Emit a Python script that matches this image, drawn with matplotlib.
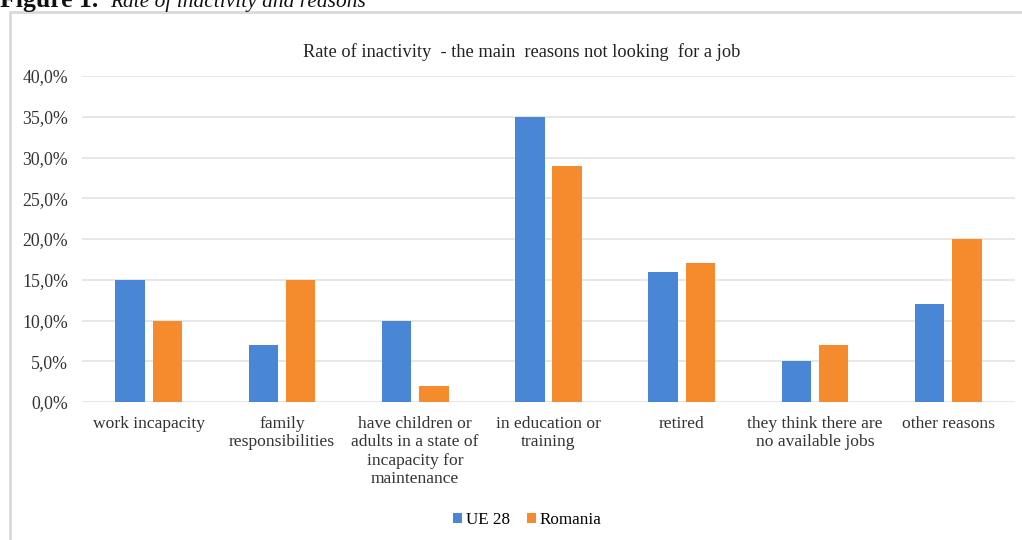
import matplotlib
matplotlib.use("Agg")
import matplotlib.pyplot as plt
import numpy as np
from matplotlib.patches import Rectangle
from matplotlib.ticker import FuncFormatter, MultipleLocator

categories = [
    "work incapacity",
    "family\nresponsibilities",
    "have children or\nadults in a state of\nincapacity for\nmaintenance",
    "in education or\ntraining",
    "retired",
    "they think there are\nno available jobs",
    "other reasons",
]
ue28 = [15, 7, 10, 35, 16, 5, 12]
romania = [10, 15, 2, 29, 17, 7, 20]
series_names = ["UE 28", "Romania"]
title = "Rate of inactivity  - the main  reasons not looking  for a job"

plt.rcParams["font.family"] = ["Liberation Serif", "DejaVu Serif"]

fig = plt.figure(figsize=(10.22, 5.40), dpi=100)
fig.patch.set_facecolor("white")

# outer frame of the chart object
fig.patches.append(Rectangle((10 / 1022, -0.2), 1.2, 1.2 - 12 / 540,
                             transform=fig.transFigure, fill=False,
                             edgecolor="#D9D9D9", linewidth=2.0))

# caption above the chart
fig.text(0.0, 1 - 7 / 540, "Figure 1.", fontsize=18.5, fontweight="bold",
         ha="left", va="baseline", color="#111111")
fig.text(110 / 1022, 1 - 7 / 540, "Rate of inactivity and reasons", fontsize=15.4,
         fontstyle="italic", ha="left", va="baseline", color="#111111")

ax = fig.add_axes([82 / 1022, 1 - 402 / 540, (1015 - 82) / 1022, (402 - 76) / 540])

x = np.arange(len(categories))
w = 0.22
off = 0.14
ax.bar(x - off, ue28, width=w, color="#4A86D6", label=series_names[0], zorder=3)
ax.bar(x + off, romania, width=w, color="#F58B2C", label=series_names[1], zorder=3)

ax.set_xlim(-0.5, len(categories) - 0.5)
ax.set_ylim(0, 40)
ax.yaxis.set_major_locator(MultipleLocator(5))
ax.yaxis.set_major_formatter(FuncFormatter(lambda v, p: f"{v:.1f}%".replace(".", ",")))
ax.grid(axis="y", color="#E3E3E3", linewidth=1.2, zorder=0)
for s in ax.spines.values():
    s.set_visible(False)
ax.tick_params(axis="both", length=0, colors="#333333")
ax.tick_params(axis="y", pad=10, labelsize=12.8)
ax.tick_params(axis="x", pad=10, labelsize=12.6)
ax.set_xticks(x)
ax.set_xticklabels(categories, linespacing=1.2)

fig.text(522 / 1022, 1 - 52 / 540, title, fontsize=13.2, ha="center",
         va="center", color="#222222")

leg = fig.legend(loc="center", bbox_to_anchor=(527 / 1022, 1 - 520 / 540),
                 ncol=2, frameon=False, fontsize=12.3, handlelength=0.55,
                 handleheight=0.55, handletextpad=0.2, columnspacing=1.0)

fig.savefig("out.png", dpi=100, facecolor="white")
